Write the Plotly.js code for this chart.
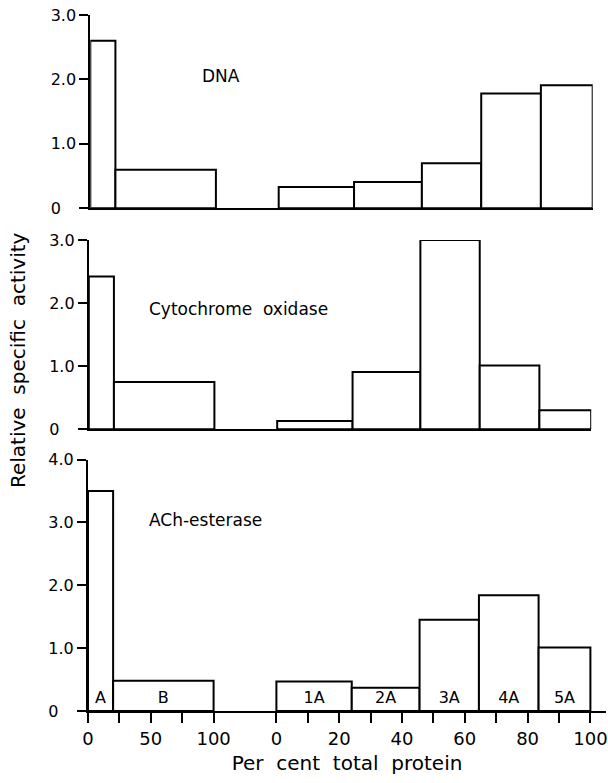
<!DOCTYPE html>
<html>
<head>
<meta charset="utf-8">
<script src="https://cdn.plot.ly/plotly-3.0.1.min.js"></script>
<style>
  html, body { margin: 0; padding: 0; background: #fff; }
  #chart { width: 608px; height: 783px; }
</style>
</head>
<body>
<div id="chart"></div>
<script>
// ---- Data ----
const fractions = ['A', 'B', '1A', '2A', '3A', '4A', '5A'];
// cumulative per cent total protein: first scale (A, B), second scale (1A..5A)
const edgesFirst = [0, 20, 100];
const edgesSecond = [0, 24, 45.6, 64.5, 83.5, 100];
const dnaValues = [2.6, 0.6, 0.33, 0.41, 0.70, 1.78, 1.91];
const cytoValues = [2.42, 0.75, 0.13, 0.91, 3.0, 1.01, 0.30];
const acheValues = [3.5, 0.48, 0.47, 0.37, 1.45, 1.84, 1.01];
const panelNames = ['DNA', 'Cytochrome\u00a0\u00a0oxidase', 'ACh-esterase'];
const firstTickVals = [0, 25, 50, 75, 100];
const firstTickText = ['0', '', '50', '', '100'];
const secondTickVals = [0, 10, 20, 30, 40, 50, 60, 70, 80, 90, 100];
const secondTickText = ['0', '', '20', '', '40', '', '60', '', '80', '', '100'];
const yTicksTop = [0, 1, 2, 3];
const yTicksBottom = [0, 1, 2, 3, 4];

// ---- Broken x scale: first segment compressed, second offset ----
const FIRST_SCALE = 0.4, SECOND_OFFSET = 60;
function toU(seg, v) { return seg === 0 ? v * FIRST_SCALE : SECOND_OFFSET + v; }

// bar centres & widths from the edges
const centers = [], widths = [];
[edgesFirst, edgesSecond].forEach((edges, seg) => {
  for (let i = 0; i < edges.length - 1; i++) {
    const a = toU(seg, edges[i]), b = toU(seg, edges[i + 1]);
    centers.push((a + b) / 2);
    widths.push(b - a);
  }
});

const W = 608, H = 783;
const px = p => p / W;
const py = p => 1 - p / H;
const FONT = 'DejaVu Sans';

function barTrace(vals, ax) {
  return {
    type: 'bar', x: centers, y: vals, width: widths,
    xaxis: 'x' + ax, yaxis: 'y' + ax,
    marker: { color: 'white', line: { color: 'black', width: 2 } },
    showlegend: false, hoverinfo: 'x+y'
  };
}

const traces = [
  barTrace(dnaValues, ''),
  barTrace(cytoValues, '2'),
  barTrace(acheValues, '3'),
  {
    type: 'scatter', mode: 'text', x: centers, y: centers.map(() => 0.19),
    text: fractions, xaxis: 'x3', yaxis: 'y3',
    textfont: { family: FONT, size: 16, color: 'black' },
    textposition: 'middle center', showlegend: false, hoverinfo: 'skip'
  }
];

const bottomTickVals = firstTickVals.map(v => toU(0, v)).concat(secondTickVals.map(v => toU(1, v)));
const bottomTickText = firstTickText.concat(secondTickText);

function xAxis(domain, range, anchor, extra) {
  return Object.assign({
    domain: domain, range: range, anchor: anchor,
    showline: true, linecolor: 'black', linewidth: 2,
    showgrid: false, zeroline: false, showticklabels: false, ticks: '',
    fixedrange: true
  }, extra || {});
}
function yAxis(domain, range, anchor, tickvals) {
  return {
    domain: domain, range: range, anchor: anchor,
    tickvals: tickvals,
    ticktext: tickvals.map(v => v === 0 ? '0\u00a0\u00a0\u00a0' : v.toFixed(1)),
    ticks: 'outside', ticklen: 9, tickwidth: 2, tickcolor: 'black',
    showline: true, linecolor: 'black', linewidth: 2,
    showgrid: false, zeroline: false,
    tickfont: { family: FONT, size: 16, color: 'black' },
    fixedrange: true
  };
}

const layout = {
  width: W, height: H,
  margin: { l: 0, r: 0, t: 0, b: 0 },
  paper_bgcolor: 'white', plot_bgcolor: 'rgba(0,0,0,0)',
  font: { family: FONT, color: 'black' },
  barmode: 'overlay',
  showlegend: false,
  xaxis: xAxis([px(90.3), px(90.3 + 160 * 3.14)], [0, 160], 'y'),
  xaxis2: xAxis([px(88.8), px(88.8 + 160 * 3.14)], [0, 160], 'y2'),
  xaxis3: xAxis([px(88), px(88 + 165 * 3.14)], [0, 165], 'y3', {
    showticklabels: true, ticks: 'outside', ticklen: 10, tickwidth: 2, tickcolor: 'black',
    tickvals: bottomTickVals, ticktext: bottomTickText,
    tickfont: { family: FONT, size: 18, color: 'black' },
    title: { text: 'Per\u00a0\u00a0cent\u00a0\u00a0total\u00a0\u00a0protein', font: { family: FONT, size: 20, color: 'black' }, standoff: 8 }
  }),
  yaxis: yAxis([py(208.3), py(15)], [0, 3], 'x', yTicksTop),
  yaxis2: yAxis([py(429.3), py(240)], [0, 3], 'x2', yTicksTop),
  yaxis3: yAxis([py(711), py(459.5)], [0, 4], 'x3', yTicksBottom),
  annotations: [
    { text: panelNames[0], xref: 'paper', yref: 'paper', x: px(200), y: py(76), xanchor: 'left', yanchor: 'middle', showarrow: false, font: { family: FONT, size: 17 } },
    { text: panelNames[1], xref: 'paper', yref: 'paper', x: px(146.7), y: py(309), xanchor: 'left', yanchor: 'middle', showarrow: false, font: { family: FONT, size: 17 } },
    { text: panelNames[2], xref: 'paper', yref: 'paper', x: px(146.7), y: py(520), xanchor: 'left', yanchor: 'middle', showarrow: false, font: { family: FONT, size: 17 } },
    { text: 'Relative\u00a0\u00a0specific\u00a0\u00a0activity', xref: 'paper', yref: 'paper', x: px(18), y: py(360), xanchor: 'center', yanchor: 'middle', textangle: -90, showarrow: false, font: { family: FONT, size: 20 } }
  ]
};

Plotly.newPlot('chart', traces, layout, { displayModeBar: false, staticPlot: true });
</script>
</body>
</html>
